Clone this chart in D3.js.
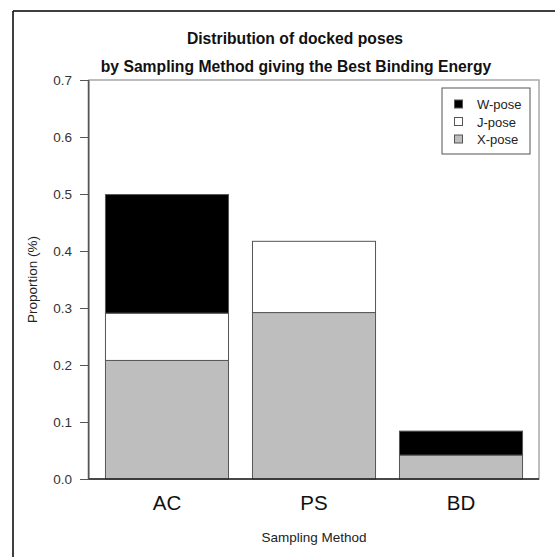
<!DOCTYPE html>
<html>
<head>
<meta charset="utf-8">
<script src="https://cdn.jsdelivr.net/npm/d3@7"></script>
<style>
  html, body { margin: 0; padding: 0; background: #fff; overflow: hidden; }
  svg { display: block; }
  text { font-family: "Liberation Sans", Arial, sans-serif; }
</style>
</head>
<body>
<div id="chart"></div>
<script>
// data
const methods = ["AC", "PS", "BD"];
const poses = ["X-pose", "J-pose", "W-pose"]; // bottom to top
const xPose = [0.208, 0.292, 0.042];
const jPose = [0.083, 0.125, 0.000];
const wPose = [0.208, 0.000, 0.042];
const yTicks = [0.0, 0.1, 0.2, 0.3, 0.4, 0.5, 0.6, 0.7];
const legendOrder = ["W-pose", "J-pose", "X-pose"];

const width = 555, height = 557;
const margin = { left: 89, right: 16, top: 80, bottom: 78 };
const innerWidth = width - margin.left - margin.right;
const innerHeight = height - margin.top - margin.bottom;

const colors = { "X-pose": "#bebebe", "J-pose": "#ffffff", "W-pose": "#000000" };

const rows = methods.map((m, i) => ({
  method: m,
  "X-pose": xPose[i],
  "J-pose": jPose[i],
  "W-pose": wPose[i]
}));

const stacked = d3.stack().keys(poses)(rows);

const svg = d3.select("#chart")
  .append("svg")
  .attr("width", width)
  .attr("height", height);

// outer frame (only left and top edges show)
svg.append("line")
  .attr("x1", 13).attr("x2", width)
  .attr("y1", 11).attr("y2", 11)
  .attr("stroke", "#000").attr("stroke-width", 1.5);
svg.append("line")
  .attr("x1", 13).attr("x2", 13)
  .attr("y1", 11).attr("y2", height)
  .attr("stroke", "#000").attr("stroke-width", 1.5);

const g = svg.append("g")
  .attr("transform", `translate(${margin.left}, ${margin.top})`);

const xScale = d3.scaleBand()
  .domain(methods)
  .range([0, innerWidth])
  .paddingInner(0.163)
  .paddingOuter(0.112);

const yScale = d3.scaleLinear()
  .domain([0, 0.7])
  .range([innerHeight, 0]);

// plot box
g.append("rect")
  .attr("x", 0).attr("y", 0)
  .attr("width", innerWidth).attr("height", innerHeight)
  .attr("fill", "none")
  .attr("stroke", "#a8a8a8")
  .attr("stroke-width", 1.5);

// stacked bars
stacked.forEach(layer => {
  g.selectAll(`.bar-${layer.key.charAt(0)}`)
    .data(layer.filter(d => d[1] - d[0] > 0))
    .join("rect")
    .attr("x", d => xScale(d.data.method))
    .attr("y", d => yScale(d[1]))
    .attr("width", xScale.bandwidth())
    .attr("height", d => yScale(d[0]) - yScale(d[1]))
    .attr("fill", colors[layer.key])
    .attr("stroke", "#555")
    .attr("stroke-width", 1);
});

// y axis
const yAxis = d3.axisLeft(yScale)
  .tickValues(yTicks)
  .tickFormat(d3.format(".1f"))
  .tickSize(9)
  .tickPadding(8);

const yG = g.append("g").call(yAxis);
yG.select(".domain").attr("stroke", "#555").attr("stroke-width", 1.5)
  .attr("d", `M-0.5,${innerHeight}V0`);
yG.selectAll(".tick line").attr("stroke", "#555");
yG.selectAll(".tick text")
  .attr("fill", "#333")
  .style("font-family", "'Liberation Sans', Arial, sans-serif")
  .style("font-size", "13.5px");

// x axis baseline
g.append("line")
  .attr("x1", 0).attr("x2", innerWidth)
  .attr("y1", innerHeight).attr("y2", innerHeight)
  .attr("stroke", "#222").attr("stroke-width", 1.5);

// category labels
g.selectAll(".cat")
  .data(methods)
  .join("text")
  .attr("x", d => xScale(d) + xScale.bandwidth() / 2)
  .attr("y", innerHeight + 31)
  .attr("text-anchor", "middle")
  .attr("fill", "#111")
  .style("font-size", "20.5px")
  .text(d => d);

// axis titles
svg.append("text")
  .attr("x", margin.left + innerWidth / 2)
  .attr("y", 542)
  .attr("text-anchor", "middle")
  .attr("fill", "#222")
  .style("font-size", "13.5px")
  .text("Sampling Method");

svg.append("text")
  .attr("transform", `translate(37, ${margin.top + innerHeight / 2}) rotate(-90)`)
  .attr("text-anchor", "middle")
  .attr("fill", "#222")
  .style("font-size", "13.5px")
  .text("Proportion (%)");

// title
const title = svg.append("text")
  .attr("text-anchor", "middle")
  .attr("font-weight", "bold")
  .attr("fill", "#111")
  .style("font-size", "15.7px");
title.append("tspan").attr("x", 295).attr("y", 44).text("Distribution of docked poses");
title.append("tspan").attr("x", 296).attr("y", 72).text("by Sampling Method giving the Best Binding Energy");

// legend
const legend = svg.append("g").attr("transform", "translate(442, 88)");
legend.append("rect")
  .attr("x", 0).attr("y", 0)
  .attr("width", 88).attr("height", 66)
  .attr("fill", "#fff")
  .attr("stroke", "#555")
  .attr("stroke-width", 1);

legendOrder.forEach((k, i) => {
  const cy = 16 + i * 17.5;
  legend.append("rect")
    .attr("x", 12.5).attr("y", cy - 4)
    .attr("width", 8).attr("height", 8)
    .attr("fill", colors[k])
    .attr("stroke", "#555");
  legend.append("text")
    .attr("x", 35).attr("y", cy + 5)
    .attr("fill", "#222")
    .style("font-size", "13px")
    .text(k);
});
</script>
</body>
</html>
